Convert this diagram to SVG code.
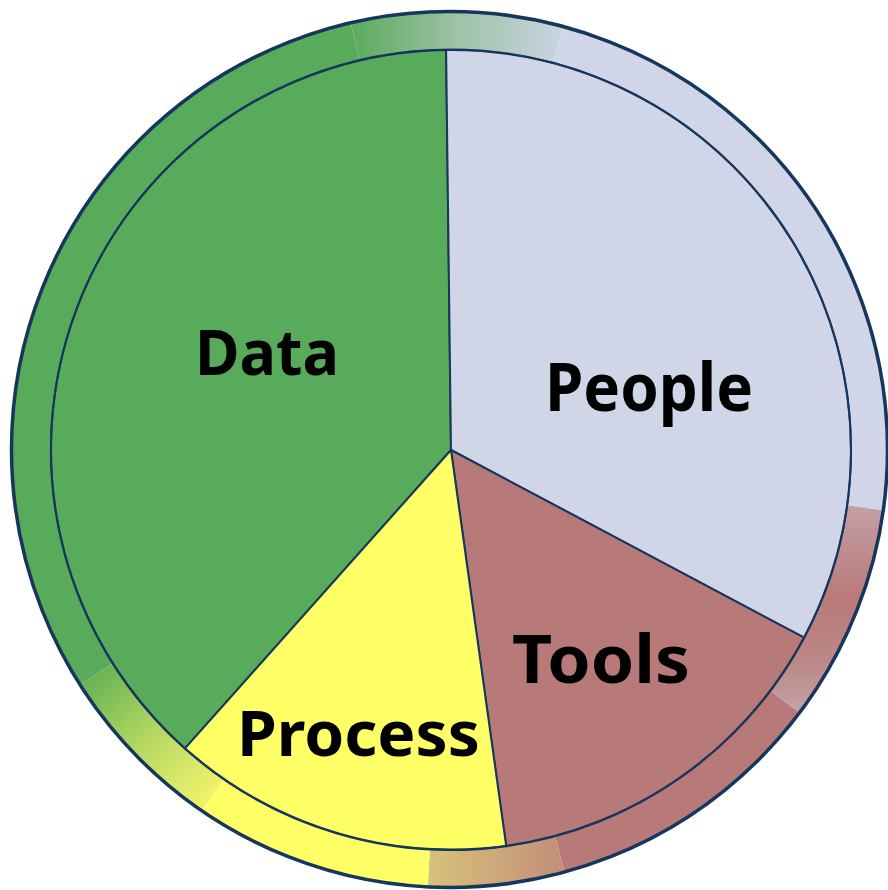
<svg xmlns="http://www.w3.org/2000/svg" width="888" height="890" viewBox="0 0 888 890">
<style>
.lbl{font-family:"Noto Sans","Liberation Sans",sans-serif;font-weight:bold;fill:#000;text-anchor:middle}
.sl{stroke:#17365d;stroke-width:2;stroke-linejoin:round}
</style>
<defs>
<linearGradient id="gTop" gradientUnits="userSpaceOnUse" x1="355" y1="40" x2="575" y2="40">
<stop offset="0" stop-color="#5dac5e"/><stop offset="0.45" stop-color="#9cc2a4"/><stop offset="1" stop-color="#d0d6e8"/>
</linearGradient>
<linearGradient id="gPink" gradientUnits="userSpaceOnUse" x1="0" y1="505" x2="0" y2="713">
<stop offset="0" stop-color="#c49fa5"/><stop offset="0.45" stop-color="#b87a78"/><stop offset="0.75" stop-color="#bc8886"/><stop offset="1" stop-color="#c3a2aa"/>
</linearGradient>
<linearGradient id="gBot" gradientUnits="userSpaceOnUse" x1="428" y1="0" x2="565" y2="0">
<stop offset="0" stop-color="#d7c27a"/><stop offset="1" stop-color="#c28e7a"/>
</linearGradient>
<linearGradient id="gYG" gradientUnits="userSpaceOnUse" x1="100" y1="672" x2="212" y2="795">
<stop offset="0" stop-color="#6bb456"/><stop offset="0.5" stop-color="#b6d862"/><stop offset="1" stop-color="#eff26c"/>
</linearGradient>
</defs>
<g id="ring">
<path d="M80.2 684.2 A438 438 0 0 1 350.7 22.9 L360.2 63.8 A396 396 0 0 0 115.7 661.7 Z" fill="#57ab5a"/>
<path d="M350.7 22.9 A438 438 0 0 1 563.4 26.4 L552.5 67 A396 396 0 0 0 360.2 63.8 Z" fill="url(#gTop)"/>
<path d="M563.4 26.4 A438 438 0 0 1 883.7 510.5 L842.1 504.6 A396 396 0 0 0 552.5 67 Z" fill="#d0d6e8"/>
<path d="M883.7 510.5 A438 438 0 0 1 799.8 713.1 L766.2 687.8 A396 396 0 0 0 842.1 504.6 Z" fill="url(#gPink)"/>
<path d="M799.8 713.1 A438 438 0 0 1 564.8 872.2 L553.8 831.6 A396 396 0 0 0 766.2 687.8 Z" fill="#b87a78"/>
<path d="M564.8 872.2 A438 438 0 0 1 427.8 886.9 L430 845 A396 396 0 0 0 553.8 831.6 Z" fill="url(#gBot)"/>
<path d="M427.8 886.9 A438 438 0 0 1 201.9 810.5 L225.7 775.8 A396 396 0 0 0 430 845 Z" fill="#ffff66"/>
<path d="M201.9 810.5 A438 438 0 0 1 80.2 684.2 L115.7 661.7 A396 396 0 0 0 225.7 775.8 Z" fill="url(#gYG)"/>
</g>
<g id="data">
<path class="sl" d="M451 450 L184.8 748.6 A400 400 0 0 1 446.1 50 Z" fill="#57ab5a"/>
</g>
<g id="people">
<path class="sl" d="M451 450 L446.1 50 A400 400 0 0 1 804.2 637.7 Z" fill="#d0d6e8"/>
</g>
<g id="tools">
<path class="sl" d="M451 450 L804.2 637.7 A400 400 0 0 1 506.2 846.2 Z" fill="#b87a78"/>
</g>
<g id="process">
<path class="sl" d="M451 450 L506.2 846.2 A400 400 0 0 1 184.8 748.6 Z" fill="#ffff66"/>
</g>
<g id="outlines" fill="none" stroke="#17365d">
<circle cx="451" cy="449.5" r="400" stroke-width="2"/>
<circle cx="449.5" cy="449.5" r="438" stroke-width="3.5"/>
</g>
<g id="labels">
<text class="lbl" x="267" y="375" font-size="62" textLength="144" lengthAdjust="spacingAndGlyphs">Data</text>
<text class="lbl" x="649" y="411" font-size="66" textLength="208" lengthAdjust="spacingAndGlyphs">People</text>
<text class="lbl" x="601" y="683" font-size="67" textLength="178" lengthAdjust="spacingAndGlyphs">Tools</text>
<text class="lbl" x="358.5" y="756" font-size="62" textLength="243" lengthAdjust="spacingAndGlyphs">Process</text>
</g>
</svg>
